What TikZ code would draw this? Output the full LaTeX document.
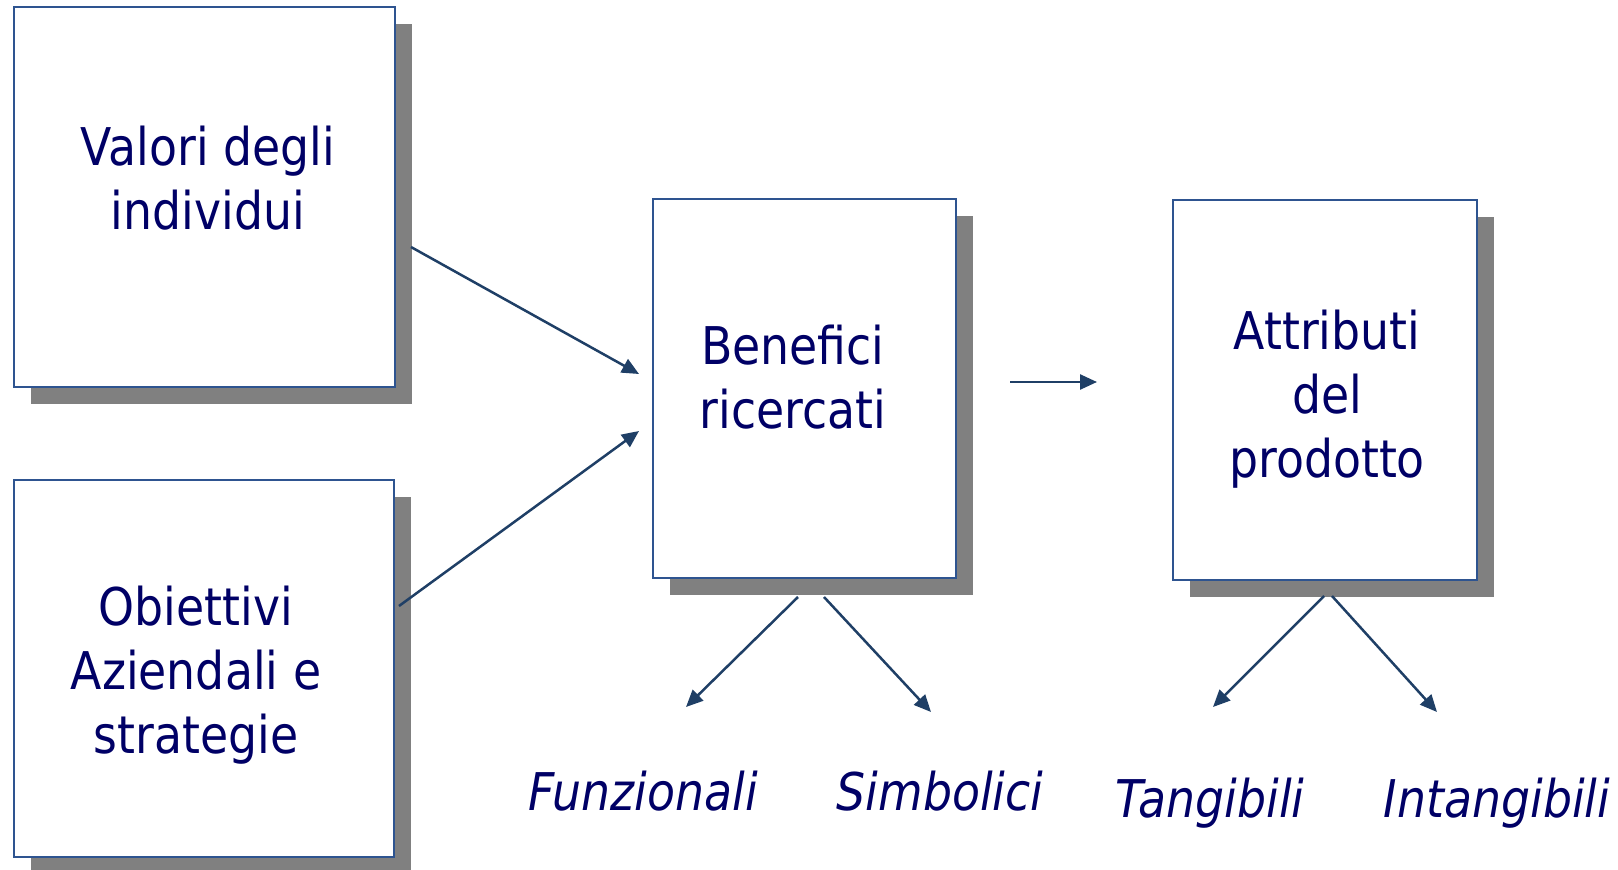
\documentclass[tikz,border=0pt]{standalone}
\usepackage{fontspec}
\setmainfont{DejaVu Sans}[FakeStretch=0.88]
\usetikzlibrary{arrows.meta,shadows}
\definecolor{bordo}{HTML}{2E5490}
\definecolor{freccia}{HTML}{1F3F66}
\definecolor{testo}{HTML}{000066}
\definecolor{ombra}{HTML}{808080}
\begin{document}
\begin{tikzpicture}[x=1pt,y=-1pt,>={Triangle[length=17pt,width=15pt]},
	riquadro/.style={draw=bordo,line width=2pt,fill=white,inner sep=0pt,drop shadow={shadow xshift=17pt,shadow yshift=-17pt,opacity=1,fill=ombra}},
	scritta/.style={text=testo,align=center,font=\fontsize{52}{64}\selectfont},
	voce/.style={text=testo,anchor=base,font=\fontsize{52}{64}\selectfont\itshape},
	collega/.style={->,draw=freccia,line width=2.5pt}]
			\useasboundingbox (0,0) rectangle (1618,870);
			% riquadri
			\node[riquadro,minimum width=381pt,minimum height=380pt] (valori) at (204.5,197) {};
			\node[riquadro,minimum width=380pt,minimum height=377pt] (obiettivi) at (204,668.5) {};
			\node[riquadro,minimum width=303pt,minimum height=379pt] (benefici) at (804.5,388.5) {};
			\node[riquadro,minimum width=304pt,minimum height=380pt] (attributi) at (1325,390) {};
			\node[scritta] (tvalori) at (208,178) {Valori degli\\individui};
			\node[scritta] (tobiettivi) at (196,675) {Obiettivi\\Aziendali e\\strategie};
			\node[scritta] (tbenefici) at (793,377) {Benefici\\ricercati};
			\node[scritta] (tattributi) at (1327,399) {Attributi\\del\\prodotto};
			% voci in basso
			\node[voce] (funz) at (643,810) {Funzionali};
			\node[voce] (simb) at (940,810) {Simbolici};
			\node[voce] (tang) at (1210,817) {Tangibili};
			\node[voce] (intang) at (1497,817) {Intangibili};
			% estremi delle frecce
			\coordinate (a1) at (411,247); \coordinate (a2) at (399,606);
			\coordinate (b1) at (639,374); \coordinate (b2) at (639,431);
			\coordinate (m1) at (1010,382); \coordinate (m2) at (1097,382);
			\coordinate (bs) at (798,597); \coordinate (bd) at (824,597);
			\coordinate (fs) at (686,707); \coordinate (fd) at (931,712);
			\coordinate (as) at (1324,596); \coordinate (ad) at (1332,596);
			\coordinate (ts) at (1213,707); \coordinate (td) at (1437,712);
			\draw[collega] (a1)--(b1);
			\draw[collega] (a2)--(b2);
			\draw[collega] (m1)--(m2);
			\draw[collega] (bs)--(fs);
			\draw[collega] (bd)--(fd);
			\draw[collega] (as)--(ts);
			\draw[collega] (ad)--(td);
		\end{tikzpicture}
\end{document}
